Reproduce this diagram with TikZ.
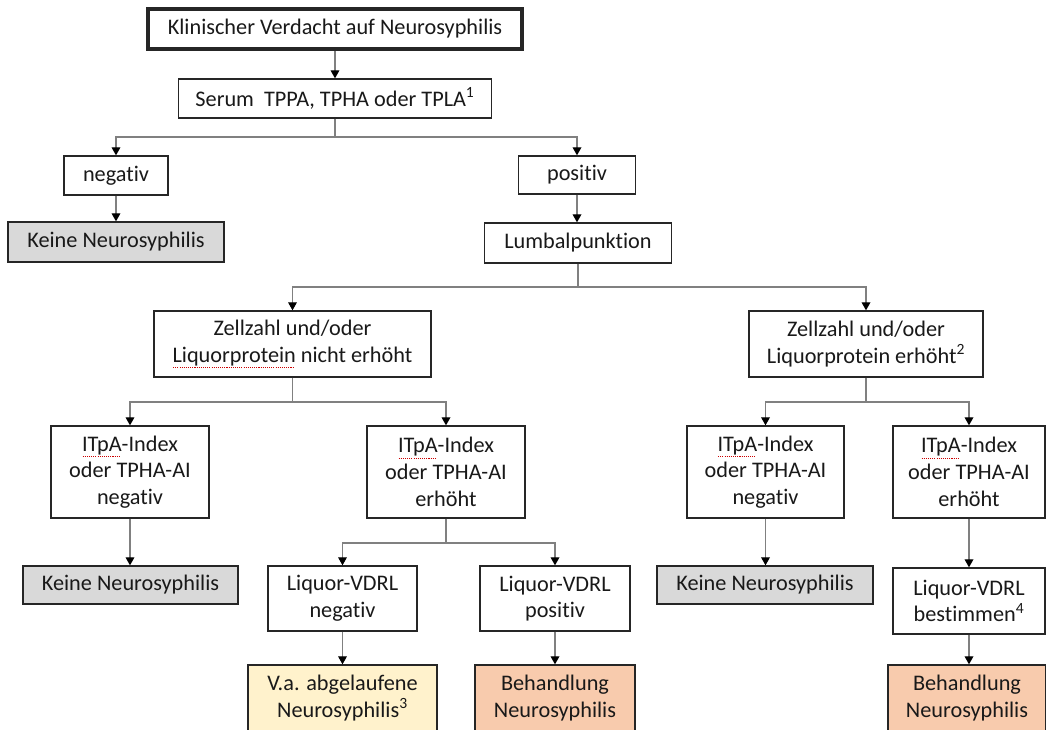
\documentclass[tikz,border=0pt]{standalone}
\usepackage{fontspec}
\setmainfont{Carlito}[Ligatures=NoCommon]
\usetikzlibrary{arrows.meta}
\definecolor{keine}{HTML}{D9D9D9}
\definecolor{verd}{HTML}{FFF2CC}
\definecolor{beh}{HTML}{F8CBAD}
\definecolor{conn}{HTML}{808080}
\definecolor{edge}{HTML}{262626}
\newcommand\spellerr[1]{\setbox0\hbox{#1}\rlap{\color{red!80!black}\leaders\hbox to 1.6pt{\hss\rule[-4.3pt]{0.8pt}{0.45pt}\hss}\hskip\wd0}\box0\relax}
\begin{document}
\begin{tikzpicture}[x=0.75pt,y=-0.75pt,
  box/.style={draw=edge, line width=1pt, fill=white, inner sep=0pt, align=center, text=black!90, font=\fontsize{16.7}{20}\selectfont},
  sz/.style 2 args={minimum width=#1*0.75pt, minimum height=#2*0.75pt},
  line/.style={draw=conn, line width=0.9pt},
  arr/.style={line, -{Triangle[width=6.5pt,length=6pt,color=black]}},
]
\useasboundingbox (0,0) rectangle (1046,729);
\clip (0,0) rectangle (1046,729);

\node[box, line width=3pt, sz={374}{40}] (K) at (335,29) {Klinischer Verdacht auf Neurosyphilis};
\node[box, sz={313}{39}] (S) at (335,98.5) {Serum\ \ TPPA, TPHA oder TPLA\textsuperscript{1}};
\node[box, sz={104}{39}] (N) at (116,175.5) {negativ};
\node[box, sz={117}{38}] (P) at (577,175) {positiv};
\node[box, fill=keine, sz={216}{40}] (KN1) at (116,242) {Keine Neurosyphilis};
\node[box, sz={187}{40}] (L) at (578,243) {Lumbalpunktion};
\node[box, sz={277}{66}] (ZL) at (292.5,344) {Zellzahl und/oder\\\spellerr{Liquorprotein} nicht erhöht};
\node[box, sz={234}{66}] (ZR) at (866,344) {Zellzahl und/oder\\Liquorprotein erhöht\textsuperscript{2}};
\node[box, sz={158}{92}] (I1) at (130,472) {\spellerr{ITpA}-Index\\oder TPHA-AI\\negativ};
\node[box, sz={158}{92}] (I2) at (446,472) {\spellerr{ITpA}-Index\\oder TPHA-AI\\erhöht};
\node[box, sz={157}{92}] (I3) at (765.5,472) {\spellerr{ITpA}-Index\\oder TPHA-AI\\negativ};
\node[box, sz={152}{92}] (I4) at (969,472) {\spellerr{ITpA}-Index\\oder TPHA-AI\\erhöht};
\node[box, fill=keine, sz={215}{38}] (KN2) at (130.5,585) {Keine Neurosyphilis};
\node[box, sz={149}{65}] (LN) at (342.5,598.5) {Liquor-VDRL\\negativ};
\node[box, sz={150}{65}] (LP) at (555,598.5) {Liquor-VDRL\\positiv};
\node[box, fill=keine, sz={216}{38}] (KN3) at (765,585) {Keine Neurosyphilis};
\node[box, sz={152}{66}] (LB) at (969,601) {Liquor-VDRL\\bestimmen\textsuperscript{4}};
\node[box, fill=verd, sz={189}{66}] (VA) at (342.5,698) {V.a. abgelaufene\\Neurosyphilis\textsuperscript{3}};
\node[box, fill=beh, sz={160}{66}] (B1) at (555,698) {Behandlung\\Neurosyphilis};
\node[box, fill=beh, sz={158}{66}] (B2) at (967,698) {Behandlung\\Neurosyphilis};

\coordinate (r1) at (0,137);
\coordinate (r2) at (0,287);
\coordinate (r3) at (0,402);
\coordinate (r4) at (0,543);

\draw[arr] (K.south) -- (S.north);
\draw[line] (S.south) -- (S.south |- r1);
\draw[arr] (S.south |- r1) -| (N.north);
\draw[arr] (S.south |- r1) -| (P.north);
\draw[arr] (N.south) -- (KN1.north);
\draw[arr] (P.south) -- (P.south |- L.north);

\draw[line] (L.south) -- (L.south |- r2);
\draw[arr] (L.south |- r2) -| (ZL.north);
\draw[arr] (L.south |- r2) -| (ZR.north);

\draw[line] (ZL.south) -- (ZL.south |- r3);
\draw[arr] (ZL.south |- r3) -| (I1.north);
\draw[arr] (ZL.south |- r3) -| (I2.north);
\draw[line] (ZR.south) -- (ZR.south |- r3);
\draw[arr] (ZR.south |- r3) -| (I3.north);
\draw[arr] (ZR.south |- r3) -| (I4.north);

\draw[arr] (I1.south) -- (I1.south |- KN2.north);
\draw[line] (I2.south) -- (I2.south |- r4);
\draw[arr] (I2.south |- r4) -| (LN.north);
\draw[arr] (I2.south |- r4) -| (LP.north);
\draw[arr] (LN.south) -- (VA.north);
\draw[arr] (LP.south) -- (B1.north);
\draw[arr] (I3.south) -- (I3.south |- KN3.north);
\draw[arr] (I4.south) -- (LB.north);
\draw[arr] (LB.south) -- (LB.south |- B2.north);
\end{tikzpicture}
\end{document}
